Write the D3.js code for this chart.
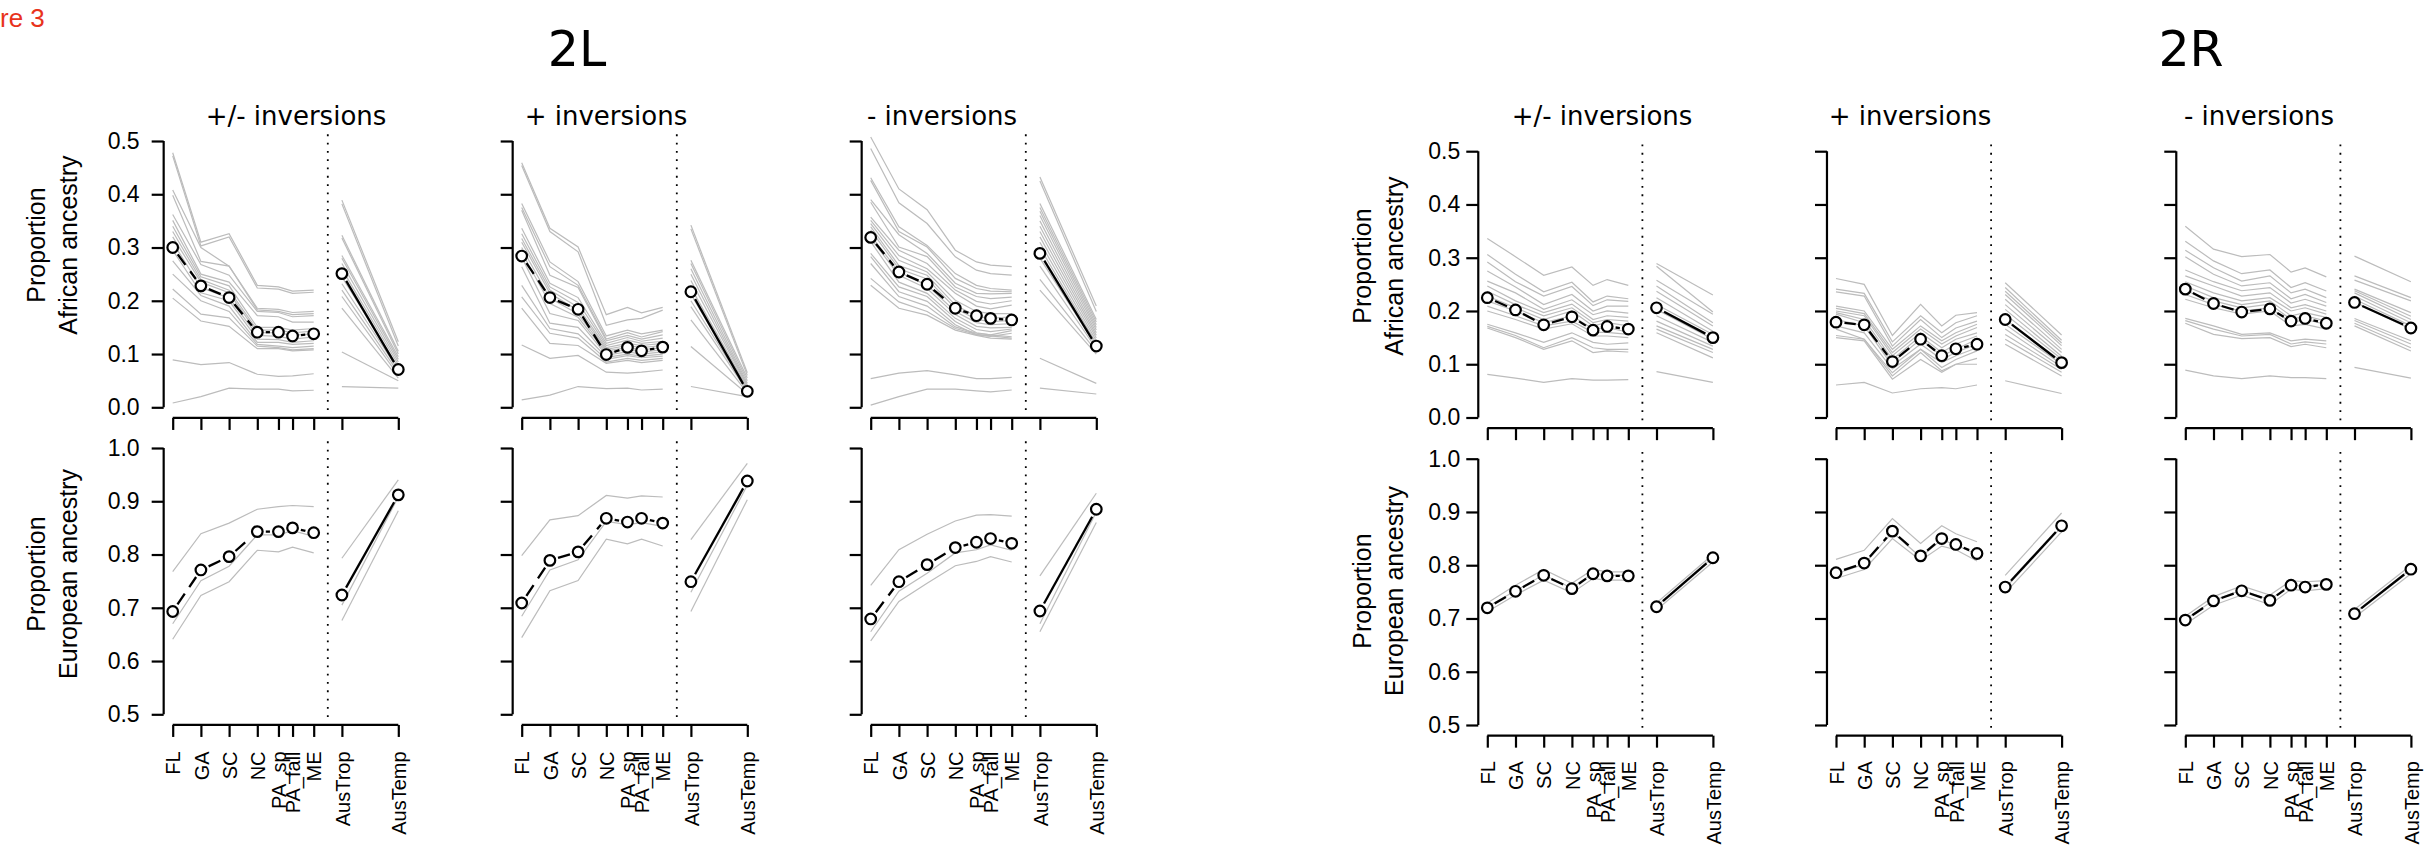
<!DOCTYPE html>
<html><head><meta charset="utf-8">
<script src="https://cdn.jsdelivr.net/npm/d3@7"></script>
<style>body{margin:0;background:#fff}svg{display:block}</style>
</head><body><svg id="c" width="2431" height="849"></svg>
<script>
// ---------------- DATA ----------------
const categories = ["FL","GA","SC","NC","PA_sp","PA_fall","ME","AusTrop","AusTemp"];
const catPos = [1,2,3,4,4.75,5.25,6,7,9];
const dividerPos = 6.5;
const groupTitles = ["2L","2R"];
const panelTitles = ["+/- inversions","+ inversions","- inversions"];
const afrTicks = [0,0.1,0.2,0.3,0.4,0.5];
const eurTicks = [0.5,0.6,0.7,0.8,0.9,1.0];
const afrLabel = ["Proportion","African ancestry"];
const eurLabel = ["Proportion","European ancestry"];

// 2L, African ancestry (mean over 9 sites; gray lines: US sites and Australian sites)
const afr2L_all_mean = [0.300,0.228,0.206,0.141,0.141,0.134,0.138,0.251,0.071];
const afr2L_all_us = [
 [0.478,0.31,0.326,0.229,0.226,0.218,0.22],[0.472,0.303,0.32,0.224,0.222,0.214,0.216],
 [0.408,0.30,0.265,0.186,0.184,0.178,0.18],[0.398,0.274,0.265,0.183,0.18,0.174,0.176],
 [0.362,0.268,0.248,0.18,0.178,0.17,0.172],[0.351,0.25,0.235,0.172,0.17,0.16,0.16],
 [0.34,0.245,0.228,0.15,0.15,0.145,0.148],[0.33,0.24,0.22,0.145,0.145,0.14,0.143],
 [0.32,0.235,0.215,0.14,0.14,0.135,0.138],[0.31,0.225,0.205,0.135,0.133,0.128,0.132],
 [0.295,0.215,0.2,0.128,0.127,0.122,0.125],[0.275,0.21,0.19,0.122,0.122,0.118,0.12],
 [0.25,0.2,0.18,0.118,0.115,0.112,0.115],[0.222,0.175,0.168,0.115,0.112,0.108,0.11],
 [0.205,0.162,0.152,0.11,0.11,0.106,0.108],[0.089,0.08,0.084,0.062,0.058,0.059,0.063],
 [0.008,0.02,0.036,0.034,0.034,0.031,0.032]];
const afr2L_all_aus = [[0.389,0.123],[0.382,0.115],[0.323,0.105],[0.318,0.1],[0.285,0.095],
 [0.28,0.09],[0.27,0.085],[0.26,0.08],[0.245,0.075],[0.232,0.07],[0.22,0.065],[0.208,0.06],
 [0.186,0.055],[0.104,0.05],[0.039,0.036]];

const afr2L_plus_mean = [0.284,0.206,0.184,0.099,0.1125,0.106,0.113,0.217,0.03];
const afr2L_plus_us = [
 [0.459,0.336,0.301,0.174,0.1875,0.1775,0.1875],[0.454,0.33,0.292,0.154,0.164,0.167,0.1825],
 [0.3825,0.273,0.236,0.134,0.145,0.138,0.145],[0.375,0.264,0.229,0.128,0.14,0.132,0.142],
 [0.37,0.248,0.225,0.125,0.135,0.128,0.136],[0.336,0.233,0.206,0.12,0.131,0.124,0.13],
 [0.326,0.226,0.197,0.116,0.126,0.12,0.124],[0.317,0.22,0.188,0.112,0.12,0.116,0.12],
 [0.31,0.214,0.182,0.109,0.116,0.112,0.116],[0.30,0.205,0.175,0.106,0.112,0.108,0.112],
 [0.291,0.195,0.169,0.102,0.108,0.104,0.108],[0.282,0.176,0.163,0.098,0.104,0.1,0.104],
 [0.264,0.158,0.15,0.094,0.1,0.096,0.1],[0.229,0.148,0.138,0.09,0.097,0.093,0.096],
 [0.2075,0.139,0.13,0.085,0.092,0.088,0.092],[0.186,0.12,0.116,0.0825,0.088,0.084,0.088],
 [0.117,0.092,0.0975,0.066,0.064,0.066,0.07],[0.014,0.023,0.039,0.035,0.036,0.0325,0.034]];
const afr2L_plus_aus = [[0.342,0.065],[0.335,0.06],[0.276,0.055],[0.27,0.05],[0.26,0.045],
 [0.25,0.042],[0.238,0.04],[0.225,0.037],[0.212,0.035],[0.2,0.032],[0.189,0.03],[0.164,0.027],
 [0.114,0.025],[0.039,0.02]];

const afr2L_minus_mean = [0.319,0.254,0.231,0.186,0.172,0.167,0.164,0.289,0.115];
const afr2L_minus_us = [
 [0.5075,0.41,0.371,0.295,0.273,0.267,0.264],[0.486,0.384,0.345,0.2825,0.2575,0.251,0.248],
 [0.431,0.339,0.304,0.251,0.229,0.223,0.22],[0.426,0.33,0.301,0.242,0.223,0.218,0.217],
 [0.39,0.324,0.289,0.233,0.214,0.213,0.214],[0.385,0.301,0.283,0.226,0.208,0.204,0.207],
 [0.357,0.295,0.27,0.22,0.199,0.194,0.2],[0.351,0.285,0.26,0.214,0.19,0.185,0.192],
 [0.345,0.276,0.254,0.201,0.18,0.176,0.176],[0.339,0.266,0.248,0.192,0.171,0.167,0.17],
 [0.333,0.26,0.241,0.186,0.165,0.161,0.163],[0.323,0.254,0.229,0.18,0.159,0.155,0.157],
 [0.317,0.248,0.223,0.174,0.152,0.149,0.15],[0.311,0.235,0.214,0.167,0.146,0.142,0.147],
 [0.289,0.226,0.208,0.161,0.14,0.136,0.144],[0.283,0.217,0.199,0.155,0.136,0.133,0.139],
 [0.27,0.208,0.19,0.151,0.139,0.136,0.1325],[0.242,0.198,0.18,0.148,0.137,0.134,0.13],
 [0.229,0.186,0.173,0.145,0.135,0.13,0.128],[0.054,0.064,0.069,0.061,0.054,0.054,0.056],
 [0.004,0.02,0.034,0.034,0.031,0.029,0.0325]];
const afr2L_minus_aus = [[0.4325,0.19],[0.425,0.18],[0.3825,0.165],[0.375,0.16],[0.368,0.155],
 [0.36,0.15],[0.35,0.145],[0.34,0.14],[0.33,0.135],[0.32,0.13],[0.31,0.125],[0.3,0.12],
 [0.28,0.115],[0.265,0.11],[0.24,0.105],[0.22,0.1],[0.092,0.045],[0.036,0.025]];

// 2R, African ancestry
const afr2R_all_mean = [0.225,0.202,0.174,0.189,0.164,0.171,0.166,0.206,0.15];
const afr2R_all_us = [
 [0.336,0.302,0.267,0.2825,0.248,0.259,0.248],[0.306,0.269,0.236,0.254,0.217,0.228,0.223],
 [0.292,0.255,0.228,0.246,0.21,0.221,0.218],[0.275,0.245,0.212,0.231,0.2,0.209,0.209],
 [0.256,0.234,0.203,0.221,0.193,0.2,0.196],[0.247,0.219,0.197,0.213,0.184,0.191,0.188],
 [0.237,0.212,0.191,0.206,0.178,0.184,0.181],[0.228,0.206,0.184,0.2,0.172,0.178,0.172],
 [0.219,0.2,0.178,0.191,0.166,0.169,0.16],[0.209,0.191,0.172,0.181,0.16,0.16,0.156],
 [0.2,0.184,0.166,0.176,0.153,0.153,0.15],[0.175,0.159,0.141,0.159,0.141,0.1375,0.14],
 [0.171,0.154,0.131,0.15,0.131,0.128,0.128],[0.168,0.15,0.128,0.144,0.122,0.125,0.123],
 [0.081,0.074,0.066,0.073,0.07,0.07,0.071]];
const afr2R_all_aus = [[0.289,0.23],[0.284,0.198],[0.2575,0.194],[0.247,0.178],[0.237,0.172],
 [0.225,0.162],[0.212,0.156],[0.203,0.147],[0.191,0.141],[0.181,0.134],[0.172,0.128],
 [0.166,0.122],[0.159,0.112],[0.086,0.066]];

const afr2R_plus_mean = [0.179,0.174,0.105,0.147,0.116,0.129,0.1375,0.184,0.103];
const afr2R_plus_us = [
 [0.261,0.25,0.154,0.2125,0.172,0.192,0.197],[0.241,0.233,0.142,0.191,0.159,0.178,0.191],
 [0.236,0.228,0.134,0.184,0.15,0.168,0.181],[0.209,0.2,0.128,0.172,0.144,0.159,0.175],
 [0.205,0.195,0.122,0.166,0.138,0.153,0.169],[0.2,0.191,0.116,0.159,0.131,0.147,0.159],
 [0.197,0.184,0.109,0.153,0.122,0.138,0.153],[0.194,0.178,0.103,0.147,0.116,0.128,0.147],
 [0.184,0.172,0.097,0.138,0.109,0.122,0.138],[0.172,0.159,0.091,0.128,0.103,0.116,0.131],
 [0.166,0.147,0.084,0.128,0.094,0.109,0.125],[0.154,0.147,0.078,0.122,0.0875,0.1,0.111],
 [0.15,0.144,0.072,0.109,0.085,0.1,0.1],[0.061,0.066,0.046,0.054,0.056,0.054,0.061]];
const afr2R_plus_aus = [[0.253,0.155],[0.244,0.145],[0.237,0.14],[0.231,0.135],[0.222,0.128],
 [0.212,0.122],[0.203,0.115],[0.194,0.11],[0.184,0.105],[0.175,0.1],[0.166,0.095],
 [0.156,0.09],[0.147,0.085],[0.1375,0.078],[0.069,0.045]];

const afr2R_minus_mean = [0.241,0.214,0.198,0.204,0.181,0.186,0.177,0.216,0.168];
const afr2R_minus_us = [
 [0.359,0.316,0.302,0.306,0.273,0.281,0.264],[0.331,0.294,0.27,0.277,0.244,0.253,0.2375],
 [0.314,0.281,0.256,0.266,0.234,0.241,0.225],[0.302,0.269,0.247,0.253,0.223,0.231,0.216],
 [0.277,0.255,0.238,0.244,0.215,0.222,0.209],[0.266,0.247,0.228,0.234,0.206,0.212,0.2],
 [0.255,0.234,0.219,0.225,0.2,0.206,0.194],[0.247,0.225,0.212,0.219,0.191,0.197,0.188],
 [0.238,0.219,0.206,0.213,0.184,0.191,0.181],[0.231,0.212,0.2,0.206,0.178,0.184,0.175],
 [0.222,0.206,0.194,0.2,0.172,0.175,0.166],[0.186,0.172,0.156,0.159,0.144,0.147,0.144],
 [0.182,0.166,0.153,0.156,0.138,0.142,0.138],[0.177,0.156,0.148,0.15,0.133,0.1375,0.131],
 [0.089,0.078,0.073,0.078,0.075,0.075,0.073]];
const afr2R_minus_aus = [[0.303,0.255],[0.266,0.225],[0.258,0.219],[0.241,0.197],[0.238,0.19],
 [0.234,0.184],[0.228,0.178],[0.222,0.172],[0.217,0.166],[0.186,0.144],[0.182,0.138],
 [0.177,0.131],[0.172,0.125],[0.094,0.074]];

// European ancestry: mean and three gray lines (upper / middle / lower), 9 sites each
const eur2L_all_mean = [0.693,0.771,0.796,0.843,0.843,0.850,0.841,0.724,0.912];
const eur2L_all_lines = [[0.768,0.839,0.859,0.885,0.890,0.892,0.890,0.793,0.940],
 [0.670,0.751,0.778,0.837,0.837,0.845,0.834,0.705,0.908],
 [0.641,0.723,0.749,0.808,0.805,0.814,0.803,0.676,0.882]];
const eur2L_plus_mean = [0.709,0.789,0.805,0.868,0.861,0.868,0.859,0.749,0.938];
const eur2L_plus_lines = [[0.798,0.865,0.873,0.911,0.906,0.910,0.908,0.828,0.971],
 [0.684,0.771,0.790,0.862,0.856,0.860,0.853,0.729,0.930],
 [0.644,0.732,0.751,0.829,0.820,0.829,0.816,0.693,0.903]];
const eur2L_minus_mean = [0.679,0.749,0.781,0.813,0.823,0.830,0.821,0.694,0.885];
const eur2L_minus_lines = [[0.742,0.809,0.838,0.863,0.874,0.875,0.872,0.760,0.915],
 [0.655,0.731,0.765,0.803,0.809,0.818,0.808,0.670,0.880],
 [0.638,0.712,0.746,0.779,0.787,0.796,0.786,0.655,0.860]];
const eur2R_all_mean = [0.720,0.751,0.781,0.756,0.784,0.780,0.780,0.722,0.814];
const eur2R_all_lines = [[0.729,0.7625,0.792,0.766,0.792,0.7875,0.7875,0.729,0.820],
 [0.722,0.752,0.782,0.757,0.785,0.781,0.781,0.723,0.815],
 [0.7125,0.744,0.772,0.748,0.775,0.772,0.772,0.716,0.806]];
const eur2R_plus_mean = [0.786,0.804,0.864,0.8175,0.850,0.839,0.822,0.759,0.874];
const eur2R_plus_lines = [[0.811,0.828,0.8875,0.841,0.874,0.859,0.844,0.781,0.898],
 [0.784,0.802,0.862,0.815,0.848,0.838,0.820,0.757,0.872],
 [0.775,0.792,0.850,0.809,0.836,0.829,0.808,0.748,0.8625]];
const eur2R_minus_mean = [0.697,0.733,0.752,0.734,0.7625,0.759,0.764,0.709,0.7925];
const eur2R_minus_lines = [[0.704,0.741,0.761,0.744,0.771,0.769,0.771,0.717,0.800],
 [0.698,0.734,0.753,0.735,0.763,0.760,0.764,0.710,0.793],
 [0.689,0.725,0.744,0.726,0.755,0.752,0.756,0.702,0.784]];

// ---------------- TABLES BUILT FROM DATA ----------------
const afrPanels = [
 [{mean:afr2L_all_mean,us:afr2L_all_us,aus:afr2L_all_aus},
  {mean:afr2L_plus_mean,us:afr2L_plus_us,aus:afr2L_plus_aus},
  {mean:afr2L_minus_mean,us:afr2L_minus_us,aus:afr2L_minus_aus}],
 [{mean:afr2R_all_mean,us:afr2R_all_us,aus:afr2R_all_aus},
  {mean:afr2R_plus_mean,us:afr2R_plus_us,aus:afr2R_plus_aus},
  {mean:afr2R_minus_mean,us:afr2R_minus_us,aus:afr2R_minus_aus}]];
const eurPanels = [
 [{mean:eur2L_all_mean,lines:eur2L_all_lines},{mean:eur2L_plus_mean,lines:eur2L_plus_lines},
  {mean:eur2L_minus_mean,lines:eur2L_minus_lines}],
 [{mean:eur2R_all_mean,lines:eur2R_all_lines},{mean:eur2R_plus_mean,lines:eur2R_plus_lines},
  {mean:eur2R_minus_mean,lines:eur2R_minus_lines}]];

// ---------------- LAYOUT ----------------
const UNIT = 28.2;       // px per x unit
const PXV = 532.6;       // px per 1.0 of proportion
const layout = [
 {fl:[172.7,521.7,870.7], topZero:407.3, botHalf:714.3, tickPad:12, titleX:577,
  subX:[296,606,942], ylabX:[36,68], ylabTopY:245, ylabBotY:574, xlabOff:26.5},
 {fl:[1487.3,1836,2185.3], topZero:417.5, botHalf:725, tickPad:6, titleX:2191,
  subX:[1602,1910,2259], ylabX:[1362,1393.5], ylabTopY:266, ylabBotY:591, xlabOff:25.5}];
const GRAY = "#bcbcbc";
const FONT = "'Liberation Sans', Arial, Helvetica, sans-serif";
const TFONT = "'DejaVu Sans', 'Lucida Grande', sans-serif";

const svg = d3.select("#c");
svg.append("rect").attr("width",2431).attr("height",849).attr("fill","#fff");

svg.append("text").attr("x",0).attr("y",27).attr("font-family",FONT).attr("font-size",26)
  .attr("fill","#e8331c").text("re 3");

const lineGen = (x,y,pos) => d3.line().x((d,i)=>x(pos[i])).y(d=>y(d));

function meanSegments(g, x, y, vals, pos, dashed){
  const gap = 8.5;
  for(let i=0;i<vals.length-1;i++){
    const x0=x(pos[i]), y0=y(vals[i]), x1=x(pos[i+1]), y1=y(vals[i+1]);
    const dx=x1-x0, dy=y1-y0, len=Math.hypot(dx,dy);
    if(len<=2*gap) continue;
    const ux=dx/len, uy=dy/len;
    g.append("line").attr("x1",x0+ux*gap).attr("y1",y0+uy*gap)
      .attr("x2",x1-ux*gap).attr("y2",y1-uy*gap)
      .attr("stroke","#000").attr("stroke-width",2.3)
      .attr("stroke-dasharray",dashed?"13,8":null);
  }
}

function drawPanel(gi, pi, isTop){
  const L = layout[gi];
  const fl = L.fl[pi];
  const x = d3.scaleLinear().domain([0.68,9.32]).range([fl-0.32*UNIT, fl+8.32*UNIT]);
  let y, ticks;
  if(isTop){
    y = d3.scaleLinear().domain([-0.02,0.52]).range([L.topZero+0.02*PXV, L.topZero-0.52*PXV]);
    ticks = afrTicks;
  } else {
    y = d3.scaleLinear().domain([0.48,1.02]).range([L.botHalf+0.02*PXV, L.botHalf-0.52*PXV]);
    ticks = eurTicks;
  }
  const g = svg.append("g");
  const usPos = catPos.slice(0,7), ausPos = catPos.slice(7);
  const gl = g.append("g").attr("fill","none").attr("stroke",GRAY).attr("stroke-width",1.2);
  let mean;
  if(isTop){
    const d = afrPanels[gi][pi];
    mean = d.mean;
    d.us.forEach(v=>gl.append("path").attr("d",lineGen(x,y,usPos)(v)));
    d.aus.forEach(v=>gl.append("path").attr("d",lineGen(x,y,ausPos)(v)));
  } else {
    const d = eurPanels[gi][pi];
    mean = d.mean;
    d.lines.forEach(v=>{
      gl.append("path").attr("d",lineGen(x,y,usPos)(v.slice(0,7)));
      gl.append("path").attr("d",lineGen(x,y,ausPos)(v.slice(7)));
    });
  }
  // divider
  g.append("line").attr("x1",x(dividerPos)).attr("x2",x(dividerPos))
    .attr("y1",y.range()[1]+4).attr("y2",y.range()[0]-4)
    .attr("stroke","#000").attr("stroke-width",1.8).attr("stroke-dasharray","1.8,6.5");
  // mean lines + circles
  meanSegments(g,x,y,mean.slice(0,7),usPos,true);
  meanSegments(g,x,y,mean.slice(7),ausPos,false);
  g.append("g").selectAll("circle").data(mean).join("circle")
    .attr("cx",(d,i)=>x(catPos[i])).attr("cy",d=>y(d)).attr("r",5.3)
    .attr("fill","#fff").attr("stroke","#000").attr("stroke-width",2.2);
  // y axis
  const showY = pi===0;
  const ya = g.append("g").attr("transform",`translate(${x(0.68)},0)`)
    .call(d3.axisLeft(y).tickValues(ticks).tickSize(12).tickPadding(L.tickPad)
      .tickFormat(showY?d3.format(".1f"):()=>""));
  ya.select(".domain").attr("d",`M0,${y(ticks[0])}V${y(ticks[ticks.length-1])}`);
  ya.selectAll("path,line").attr("stroke","#000").attr("stroke-width",2.2);
  ya.selectAll("text").attr("font-family",FONT).attr("font-size",23).attr("fill","#000");
  // x axis
  const yb = y.range()[0];
  const xa = g.append("g").attr("transform",`translate(0,${yb})`)
    .call(d3.axisBottom(x).tickValues(catPos).tickSize(12)
      .tickFormat(isTop?()=>"":(d,i)=>categories[i]));
  xa.select(".domain").attr("d",`M${x(catPos[0])},0H${x(catPos[catPos.length-1])}`);
  xa.selectAll("path,line").attr("stroke","#000").attr("stroke-width",2.2);
  if(!isTop){
    xa.selectAll("text").attr("font-family",FONT).attr("font-size",20).attr("fill","#000")
      .attr("transform","rotate(-90)").attr("text-anchor","end")
      .attr("x",-L.xlabOff).attr("y",0).attr("dy","0.36em");
  }
  // y axis title
  if(showY){
    const lab = isTop?afrLabel:eurLabel;
    const cy = isTop?L.ylabTopY:L.ylabBotY;
    lab.forEach((t,k)=>{
      g.append("text").attr("transform",`translate(${L.ylabX[k]},${cy}) rotate(-90)`)
        .attr("text-anchor","middle").attr("dominant-baseline","central")
        .attr("font-family",FONT).attr("font-size",25).attr("fill","#000").text(t);
    });
  }
  if(isTop){
    g.append("text").attr("x",L.subX[pi]).attr("y",125).attr("text-anchor","middle")
      .attr("font-family",TFONT).attr("font-size",26).attr("fill","#000").text(panelTitles[pi]);
  }
}

layout.forEach((L,gi)=>{
  svg.append("text").attr("x",L.titleX).attr("y",66).attr("text-anchor","middle")
    .attr("font-family",TFONT).attr("font-size",49).attr("fill","#000").text(groupTitles[gi]);
  for(let pi=0;pi<3;pi++){ drawPanel(gi,pi,true); drawPanel(gi,pi,false); }
});
</script></body></html>
